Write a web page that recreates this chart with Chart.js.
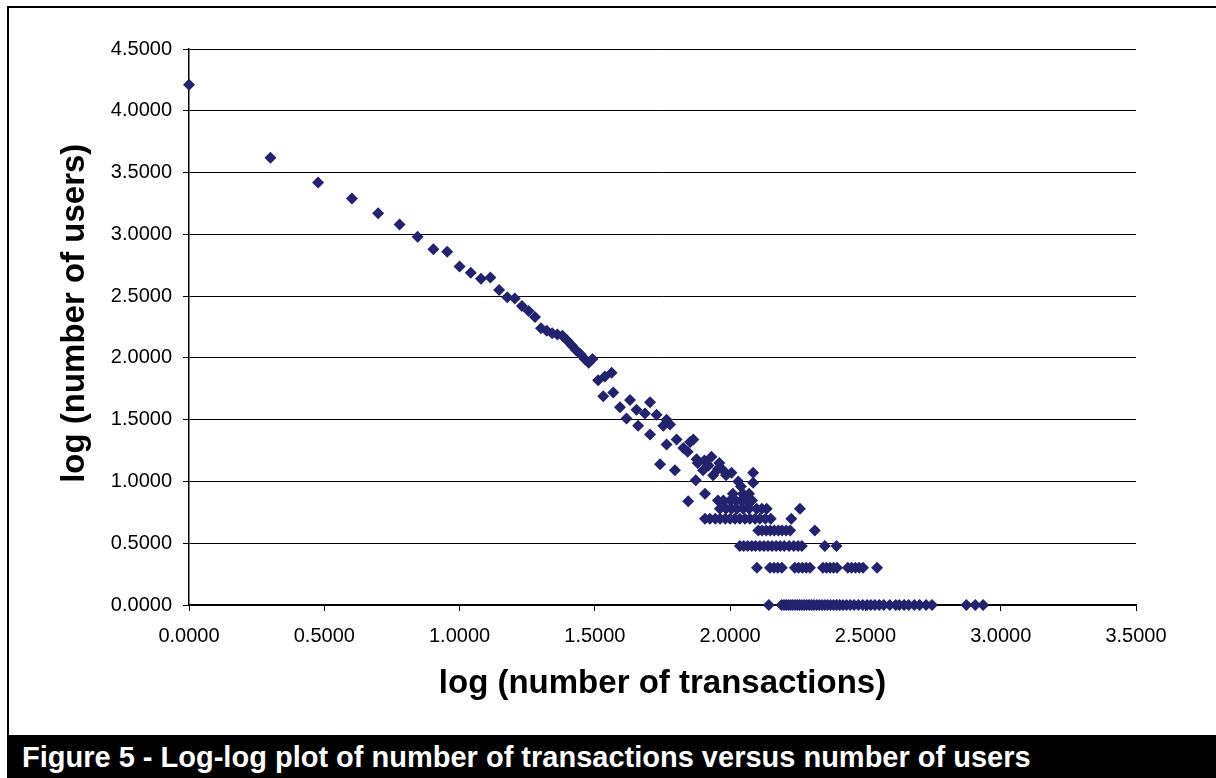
<!DOCTYPE html>
<html>
<head>
<meta charset="utf-8">
<script src="https://cdn.jsdelivr.net/npm/chart.js@4"></script>
<style>
  html, body { margin: 0; padding: 0; background: #fff; }
  body { width: 1216px; height: 778px; position: relative; overflow: hidden; font-family: "Liberation Sans", Arial, sans-serif; }
  #frame { position: absolute; left: 7px; top: 6px; width: 1220px; height: 800px; border: 2px solid #000; box-sizing: border-box; }
  #wrap { position: absolute; left: 0; top: 0; width: 1216px; height: 735px; }
  #caption { position: absolute; left: 7px; top: 735px; width: 1209px; height: 43px; background: #000; color: #fff;
             font-weight: bold; font-size: 29px; line-height: 45px; padding-left: 15px; box-sizing: border-box; white-space: nowrap; }
</style>
</head>
<body>
<div id="frame"></div>
<div id="wrap"><canvas id="myChart"></canvas></div>
<div id="caption">Figure 5 - Log-log plot of number of transactions versus number of users</div>
<script>
// tick values (labels shown with 4 decimals)
const xTicks = [0, 0.5, 1.0, 1.5, 2.0, 2.5, 3.0, 3.5];
const yTicks = [0, 0.5, 1.0, 1.5, 2.0, 2.5, 3.0, 3.5, 4.0, 4.5];

// upper part of the curve, one point per transaction count
const headX = [0.0000, 0.3010, 0.4771, 0.6021, 0.6990, 0.7782, 0.8451, 0.9031, 0.9542, 1.0000,
  1.0414, 1.0792, 1.1139, 1.1461, 1.1761, 1.2041, 1.2304, 1.2553, 1.2788, 1.3010,
  1.3222, 1.3424, 1.3617, 1.3802, 1.3979, 1.4150, 1.4314, 1.4472, 1.4624, 1.4771, 1.4914];
const headY = [4.21, 3.62, 3.42, 3.29, 3.17, 3.08, 2.98, 2.88, 2.86, 2.74,
  2.69, 2.64, 2.65, 2.55, 2.49, 2.48, 2.42, 2.38, 2.33, 2.24,
  2.22, 2.20, 2.19, 2.18, 2.14, 2.10, 2.06, 2.03, 1.99, 1.96, 1.99];

// scattered middle section
const midX = [1.512, 1.531, 1.537, 1.562, 1.568, 1.593, 1.617, 1.630, 1.654, 1.660,
  1.685, 1.704, 1.704, 1.728, 1.741, 1.753, 1.765, 1.765, 1.778, 1.802,
  1.796, 1.827, 1.843, 1.852, 1.864, 1.876, 1.873, 1.880, 1.900, 1.905,
  1.920, 1.931, 1.937, 1.955, 1.960, 1.974, 1.985, 2.005, 2.030, 2.040,
  2.085, 2.085, 1.845, 1.907, 2.010, 2.047, 2.070];
const midY = [1.82, 1.69, 1.85, 1.88, 1.72, 1.60, 1.51, 1.66, 1.58, 1.45,
  1.55, 1.64, 1.38, 1.54, 1.14, 1.45, 1.50, 1.30, 1.46, 1.34,
  1.09, 1.27, 1.24, 1.32, 1.34, 1.18, 1.01, 1.15, 1.09, 1.17,
  1.13, 1.20, 1.05, 1.10, 1.15, 1.09, 1.05, 1.07, 1.00, 0.96,
  1.07, 0.99, 0.84, 0.90, 0.90, 0.90, 0.90];

// tail: few users per count, so points sit on discrete levels
const levelY = [0.8451, 0.7782, 0.6990, 0.6021, 0.4771, 0.3010, 0.0000];
const levelX = [
  [1.955, 1.975, 2.000, 2.020, 2.040, 2.061, 2.081],
  [1.962, 1.985, 2.005, 2.025, 2.048, 2.070, 2.098, 2.117, 2.135, 2.258],
  [1.907, 1.925, 1.945, 1.963, 1.982, 2.000, 2.018, 2.036, 2.055, 2.073, 2.092, 2.110, 2.130, 2.150, 2.226],
  [2.104, 2.118, 2.133, 2.148, 2.163, 2.178, 2.192, 2.207, 2.222, 2.313],
  [2.036, 2.050, 2.065, 2.080, 2.094, 2.110, 2.125, 2.140, 2.155, 2.170, 2.185, 2.200, 2.218, 2.235, 2.251, 2.265, 2.350, 2.393],
  [2.099, 2.147, 2.162, 2.176, 2.191, 2.239, 2.253, 2.267, 2.281, 2.295, 2.343, 2.356, 2.369, 2.382, 2.395,
   2.435, 2.449, 2.463, 2.477, 2.491, 2.543],
  [2.143, 2.190, 2.199, 2.207, 2.215, 2.223, 2.231, 2.240, 2.248, 2.256, 2.265, 2.274, 2.283, 2.292, 2.301,
   2.310, 2.320, 2.330, 2.340, 2.350, 2.360, 2.371, 2.382, 2.393, 2.405, 2.417, 2.430, 2.444, 2.458, 2.474,
   2.490, 2.506, 2.520, 2.535, 2.551, 2.568, 2.590, 2.612, 2.625, 2.643, 2.660, 2.681, 2.700, 2.724, 2.746,
   2.873, 2.906, 2.935]
];

const points = [];
headX.forEach((x, i) => points.push({ x: x, y: headY[i] }));
midX.forEach((x, i) => points.push({ x: x, y: midY[i] }));
levelX.forEach((row, j) => row.forEach(x => points.push({ x: x, y: levelY[j] })));

Chart.defaults.font.family = '"Liberation Sans", Arial, sans-serif';
Chart.defaults.color = '#000';

const ctx = document.getElementById('myChart').getContext('2d');
const myChart = new Chart(ctx, {
  type: 'scatter',
  data: {
    datasets: [{
      label: 'users',
      data: points,
      pointStyle: 'rectRot',
      pointRadius: 6,
      backgroundColor: '#22226e',
      borderColor: '#22226e',
      borderWidth: 0,
      clip: false
    }]
  },
  options: {
    responsive: true,
    maintainAspectRatio: false,
    animation: false,
    layout: { padding: { left: 50, top: 49, right: 80, bottom: 30 } },
    plugins: { legend: { display: false }, tooltip: { enabled: false } },
    scales: {
      x: {
        type: 'linear',
        min: 0,
        max: 3.5,
        afterBuildTicks: s => { s.ticks = xTicks.map(v => ({ value: v })); },
        afterFit: s => { s.height = 100; },
        ticks: { font: { size: 20 }, padding: 13, maxRotation: 0, callback: v => v.toFixed(4) },
        grid: { drawOnChartArea: false, color: '#000', tickLength: 6, lineWidth: 1 },
        border: { color: '#000', width: 1.5 },
        title: { display: true, text: 'log (number of transactions)', font: { size: 33, weight: 'bold' }, padding: { top: 0, bottom: 1 } }
      },
      y: {
        type: 'linear',
        min: 0,
        max: 4.5,
        afterBuildTicks: s => { s.ticks = yTicks.map(v => ({ value: v })); },
        afterFit: s => { s.width = 139; },
        ticks: { font: { size: 20 }, padding: 11, callback: v => v.toFixed(4) },
        grid: { color: '#000', tickLength: 6, lineWidth: 1 },
        border: { color: '#000', width: 1.5 },
        title: { display: true, text: '\u00a0\u00a0\u00a0log (number of users)', font: { size: 33, weight: 'bold' }, padding: { top: 5, bottom: 0 } }
      }
    }
  }
});
</script>
</body>
</html>
